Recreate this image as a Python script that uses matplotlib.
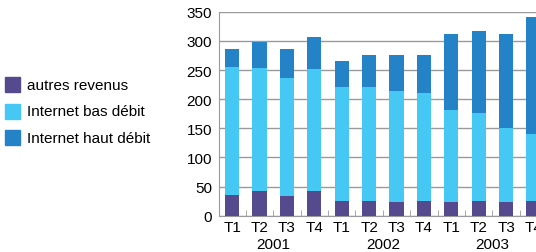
#Stacked quarterly revenue chart
import numpy as np
import matplotlib.pyplot as plt

plt.rcParams['font.family'] = ['Liberation Sans Narrow', 'Liberation Sans', 'DejaVu Sans']

#Data
quarters = ['T1', 'T2', 'T3', 'T4'] * 3
years = ['2001', '2002', '2003']
autres = [36, 43, 34, 42, 26, 25, 24, 25, 24, 25, 23, 25]
bas_debit = [220, 210, 202, 210, 195, 196, 190, 185, 157, 152, 128, 116]
haut_debit = [30, 45, 50, 54, 45, 55, 62, 65, 130, 140, 160, 200]
labels = ['autres revenus', 'Internet bas débit', 'Internet haut débit']
colors = ['#554a8e', '#45c8f4', '#2383c6']

x = np.arange(len(quarters))
fig = plt.figure(figsize=(5.36, 2.53), dpi=100)
ax = fig.add_axes([0.4086, 0.1435, 0.6, 0.806])

bottom = np.zeros(len(x))
for vals, c in zip([autres, bas_debit, haut_debit], colors):
    ax.bar(x, vals, width=0.52, bottom=bottom, color=c, zorder=3)
    bottom += np.array(vals)

ax.set_xlim(-0.48, 11.26)
ax.set_ylim(0, 350)
ax.set_yticks(range(0, 351, 50))
ax.yaxis.grid(True, color='#9a9a9a', linewidth=1)
ax.set_axisbelow(True)
for s in ['top', 'right']:
    ax.spines[s].set_visible(False)
ax.spines['left'].set_color('#9a9a9a')
ax.spines['bottom'].set_color('#9a9a9a')
ax.tick_params(axis='y', length=0, pad=5, labelsize=11)
ax.set_xticks(x)
ax.set_xticklabels(quarters)
ax.tick_params(axis='x', length=0, pad=3, labelsize=11)
ax.set_xticks(np.arange(0.5, 11, 1), minor=True)
ax.tick_params(axis='x', which='minor', direction='in', length=4, color='#9a9a9a')

#Years under the quarters
for i, yr in enumerate(years):
    ax.text(4 * i + 1.5, -0.138, yr, transform=ax.get_xaxis_transform(),
            ha='center', va='center', fontsize=11)

#Legend on the left
for i, (lab, c) in enumerate(zip(labels, colors)):
    ytop = 78 + 26.5 * i
    fig.patches.append(plt.Rectangle((5 / 536, 1 - (ytop + 15) / 253), 15 / 536, 15 / 253,
                                     transform=fig.transFigure, color=c))
    fig.text(27 / 536, 1 - (ytop + 8) / 253, lab, va='center', ha='left', fontsize=11)

plt.savefig('out.png', dpi=100)
